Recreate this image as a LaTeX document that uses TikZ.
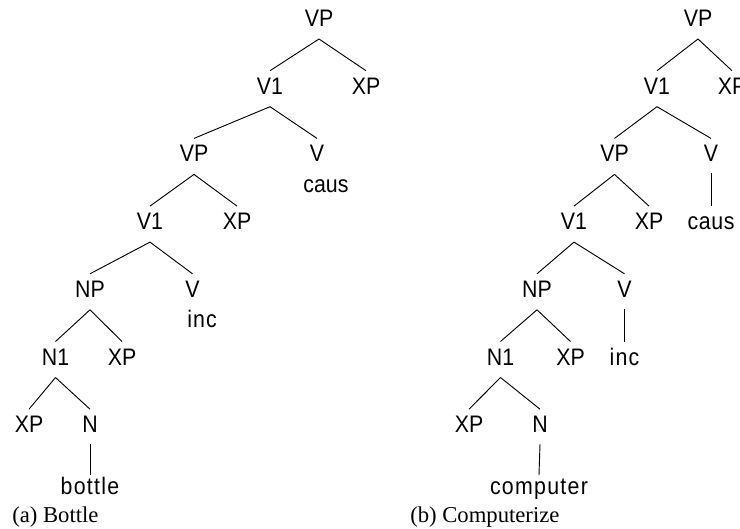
\documentclass[tikz,border=0pt]{standalone}
\usepackage{graphicx}
\usepackage{fontspec}
\setmainfont{Liberation Serif}
\newfontfamily\labfont{Liberation Sans}
\usetikzlibrary{calc}
\newcommand\tl[1]{\scalebox{1}[1.12]{#1}}
\newcommand\tlw[2]{\scalebox{1}[1.12]{\addfontfeature{LetterSpace=#1}#2}}
\newcommand\tedge[2]{\draw[branch] ($(#1)+(0,21)$) -- ($(#2)+(0,-15)$);}
\newcommand\tstem[2]{\draw[branch] ($(#1)+(0,20)$) -- ($(#2)+(0,-15)$);}
\newcommand\tstemw[2]{\draw[branch] ($(#1)+(0,20)$) -- ($(#2)+(0,-10.6)$);}
\begin{document}
\begin{tikzpicture}[x=0.75pt,y=-0.75pt,
  lab/.style={font=\labfont\fontsize{16}{16}\selectfont, inner sep=0pt, text height=12.84pt, text depth=0pt},
  capt/.style={font=\fontsize{17}{17}\selectfont, inner sep=0pt, anchor=base west},
  branch/.style={line width=0.7pt, black}]
\useasboundingbox (0,0) rectangle (740,529);
% ---------- left tree (a) ----------
\node[lab] (a0) at (319,18) {\tl{VP}};
\node[lab] (a1) at (270,85.7) {\tl{V1}};
\node[lab] (a2) at (366,85.7) {\tl{XP}};
\node[lab] (a3) at (194,153.4) {\tl{VP}};
\node[lab] (a4) at (317,153.4) {\tl{V}};
\node[lab] (a5) at (326,184.4) {\tl{caus}};
\node[lab] (a6) at (150,221.1) {\tl{V1}};
\node[lab] (a7) at (237,221.1) {\tl{XP}};
\node[lab] (a8) at (90,288.8) {\tl{NP}};
\node[lab] (a9) at (192.5,288.8) {\tl{V}};
\node[lab] (a10) at (202,319.4) {\tlw{5}{inc}};
\node[lab] (a11) at (55.5,356.5) {\tl{N1}};
\node[lab] (a12) at (122,356.5) {\tl{XP}};
\node[lab] (a13) at (29,424.2) {\tl{XP}};
\node[lab] (a14) at (90,424.2) {\tl{N}};
\node[lab] (a15) at (90,485.6) {\tlw{6}{bottle}};
\tedge{a0}{a1} \tedge{a0}{a2}
\tedge{a1}{a3} \tedge{a1}{a4}
\tedge{a3}{a6} \tedge{a3}{a7}
\tedge{a6}{a8} \tedge{a6}{a9}
\tedge{a8}{a11} \tedge{a8}{a12}
\tedge{a11}{a13} \tedge{a11}{a14}
\tstemw{a14}{a15}
\node[capt] (ca) at (12,522) {(a) Bottle};
% ---------- right tree (b) ----------
\node[lab] (b0) at (698,18) {\tl{VP}};
\node[lab] (b1) at (657,85.7) {\tl{V1}};
\node[lab] (b2) at (732,85.7) {\tl{XP}};
\node[lab] (b3) at (614.5,153.4) {\tl{VP}};
\node[lab] (b4) at (711,153.4) {\tl{V}};
\node[lab] (b5) at (711,221.1) {\tlw{3}{caus}};
\node[lab] (b6) at (574,221.1) {\tl{V1}};
\node[lab] (b7) at (649,221.1) {\tl{XP}};
\node[lab] (b8) at (537,288.8) {\tl{NP}};
\node[lab] (b9) at (624.5,288.8) {\tl{V}};
\node[lab] (b10) at (624.5,356.5) {\tlw{6}{inc}};
\node[lab] (b11) at (500.5,356.5) {\tl{N1}};
\node[lab] (b12) at (570.5,356.5) {\tl{XP}};
\node[lab] (b13) at (469,424.2) {\tl{XP}};
\node[lab] (b14) at (540,424.2) {\tl{N}};
\node[lab] (b15) at (539,485.6) {\tlw{6}{computer}};
\tedge{b0}{b1} \tedge{b0}{b2}
\tedge{b1}{b3} \tedge{b1}{b4}
\tedge{b3}{b6} \tedge{b3}{b7}
\tedge{b6}{b8} \tedge{b6}{b9}
\tedge{b8}{b11} \tedge{b8}{b12}
\tedge{b11}{b13} \tedge{b11}{b14}
\tstem{b4}{b5}
\tstem{b9}{b10}
\tstemw{b14}{b15}
\node[capt] (cb) at (410,522) {(b) Computerize};
\end{tikzpicture}
\end{document}
